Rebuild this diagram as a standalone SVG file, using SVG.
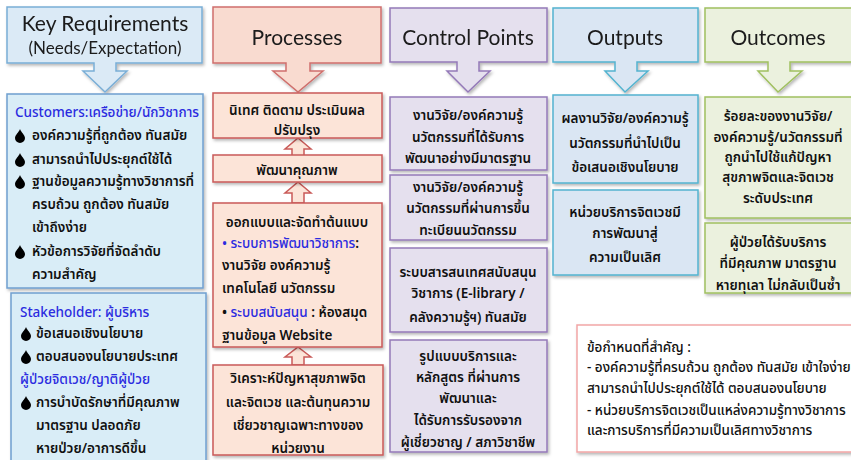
<svg xmlns="http://www.w3.org/2000/svg" xmlns:xlink="http://www.w3.org/1999/xlink" width="851" height="460" viewBox="0 0 851 460">
<defs>
<filter id="sh" x="-10%" y="-10%" width="120%" height="130%">
<feDropShadow dx="1.5" dy="2" stdDeviation="1.5" flood-color="#000" flood-opacity="0.28"/>
</filter>
<path id="drop" d="M0,-7 C1,-4 5,-1 5,2 A5,5 0 0 1 -5,2 C-5,-1 -1,-4 0,-7 Z" fill="#000"/>
<style>
.hd{font-family:Lato,"Open Sans","Liberation Sans",sans-serif;font-size:21px;fill:#1a1a1a;text-anchor:middle}
.hd2{font-family:Lato,"Open Sans","Liberation Sans",sans-serif;font-size:17px;fill:#1a1a1a;text-anchor:middle}
.t{font-family:"Noto Sans Thai","Noto Sans","Liberation Sans",sans-serif;font-size:13.5px;font-weight:600;fill:#111}
.c{text-anchor:middle}
.b{fill:#2b2be0;font-weight:500}
.blue{fill:#dbeaf6;stroke:#7aaed6;stroke-width:1.5}
.blue2{fill:#d9edf7;stroke:#6f9fd0;stroke-width:1.5}
.red{fill:#f9dbd0;stroke:#cf6f6c;stroke-width:1.5}
.red2{fill:#fce4d8;stroke:#c95a58;stroke-width:1.5}
.pur{fill:#e5e0ee;stroke:#9479b8;stroke-width:1.5}
.aqua{fill:#dae6f3;stroke:#53b3cf;stroke-width:1.5}
.grn{fill:#ebf1de;stroke:#a0c060;stroke-width:1.5}
.note{fill:#fff;stroke:#f2a6a6;stroke-width:1.5}
.nt{font-weight:500}
</style>
</defs>
<rect width="851" height="460" fill="#fff"/>

<g id="connectors">
<path class="red2" d="M298,138 L311,149 H304 V156 H292 V149 H285 Z"/>
<path class="red2" d="M298,182 L311,193 H304 V203 H292 V193 H285 Z"/>
<path class="red2" d="M298,347 L311,357 H304 V365 H292 V357 H285 Z"/>
</g>

<g id="hdr-key" filter="url(#sh)">
<path class="blue" d="M7,7 H202 V63 H116 V71 H127 L105,92 L83,71 H94 V63 H7 Z"/>
<text class="hd" x="105" y="31">Key Requirements</text>
<text class="hd2" x="105" y="54">(Needs/Expectation)</text>
</g>
<g id="hdr-proc" filter="url(#sh)">
<path class="red" d="M213,7 H381 V63 H310 V71 H323 L298,92 L273,71 H286 V63 H213 Z"/>
<text class="hd" x="297" y="45">Processes</text>
</g>
<g id="hdr-ctrl" filter="url(#sh)">
<path class="pur" d="M390,8 H547 V62 H479 V71 H490 L468,92 L447,71 H457 V62 H390 Z"/>
<text class="hd" x="468" y="45">Control Points</text>
</g>
<g id="hdr-out" filter="url(#sh)">
<path class="aqua" d="M553,8 H698 V62 H637 V71 H648 L625,92 L605,71 H615 V62 H553 Z"/>
<text class="hd" x="625" y="45">Outputs</text>
</g>
<g id="hdr-outc" filter="url(#sh)">
<path class="grn" d="M705,8 H853 V62 H790 V71 H802 L778,92 L758,71 H768 V62 H705 Z"/>
<text class="hd" x="778" y="45">Outcomes</text>
</g>

<g id="customers">
<rect class="blue2" x="7" y="94" width="196" height="194" filter="url(#sh)"/>
<text class="t b" x="15" y="117">Customers:เครือข่าย/นักวิชาการ</text>
<use xlink:href="#drop" x="20" y="136"/>
<text class="t" x="32" y="140">องค์ความรู้ที่ถูกต้อง ทันสมัย</text>
<use xlink:href="#drop" x="20" y="160"/>
<text class="t" x="32" y="164">สามารถนำไปประยุกต์ใช้ได้</text>
<use xlink:href="#drop" x="20" y="182"/>
<text class="t" x="32" y="186">ฐานข้อมูลความรู้ทางวิชาการที่</text>
<text class="t" x="32" y="209">ครบถ้วน ถูกต้อง ทันสมัย</text>
<text class="t" x="32" y="232">เข้าถึงง่าย</text>
<use xlink:href="#drop" x="20" y="252"/>
<text class="t" x="32" y="256">หัวข้อการวิจัยที่จัดลำดับ</text>
<text class="t" x="32" y="279">ความสำคัญ</text>
</g>

<g id="stakeholder">
<rect class="blue2" x="11" y="293" width="195" height="175" filter="url(#sh)"/>
<text class="t b" x="20" y="317">Stakeholder: ผู้บริหาร</text>
<use xlink:href="#drop" x="26" y="334"/>
<text class="t" x="36" y="338">ข้อเสนอเชิงนโยบาย</text>
<use xlink:href="#drop" x="26" y="357"/>
<text class="t" x="36" y="361">ตอบสนองนโยบายประเทศ</text>
<text class="t b" x="20" y="384">ผู้ป่วยจิตเวช/ญาติผู้ป่วย</text>
<use xlink:href="#drop" x="26" y="403"/>
<text class="t" x="36" y="407">การบำบัดรักษาที่มีคุณภาพ</text>
<text class="t" x="36" y="430">มาตรฐาน ปลอดภัย</text>
<text class="t" x="36" y="453">หายป่วย/อาการดีขึ้น</text>
</g>

<g id="proc-a">
<rect class="red2" x="213" y="93" width="169" height="45" filter="url(#sh)"/>
<text class="t c" x="297" y="115">นิเทศ ติดตาม ประเมินผล</text>
<text class="t c" x="297" y="135">ปรับปรุง</text>
</g>
<g id="proc-b">
<rect class="red2" x="213" y="155" width="169" height="27" filter="url(#sh)"/>
<text class="t c" x="297" y="175">พัฒนาคุณภาพ</text>
</g>
<g id="proc-c">
<rect class="red2" x="213" y="203" width="169" height="144" filter="url(#sh)"/>
<text class="t c" x="297" y="227">ออกแบบและจัดทำต้นแบบ</text>
<text class="t" x="222" y="248"><tspan class="b">• ระบบการพัฒนาวิชาการ</tspan>:</text>
<text class="t" x="222" y="270">งานวิจัย องค์ความรู้</text>
<text class="t" x="222" y="293">เทคโนโลยี นวัตกรรม</text>
<text class="t" x="222" y="317">• <tspan class="b">ระบบสนับสนุน</tspan> : ห้องสมุด</text>
<text class="t" x="222" y="340">ฐานข้อมูล Website</text>
</g>
<g id="proc-d">
<rect class="red2" x="213" y="365" width="170" height="90" filter="url(#sh)"/>
<text class="t c" x="298" y="383">วิเคราะห์ปัญหาสุขภาพจิต</text>
<text class="t c" x="298" y="407">และจิตเวช และต้นทุนความ</text>
<text class="t c" x="298" y="430">เชี่ยวชาญเฉพาะทางของ</text>
<text class="t c" x="298" y="453">หน่วยงาน</text>
</g>

<g id="cp1">
<rect class="pur" x="390" y="97" width="157" height="73" filter="url(#sh)"/>
<text class="t c" x="468" y="120">งานวิจัย/องค์ความรู้</text>
<text class="t c" x="468" y="142">นวัตกรรมที่ได้รับการ</text>
<text class="t c" x="468" y="163">พัฒนาอย่างมีมาตรฐาน</text>
</g>
<g id="cp2">
<rect class="pur" x="390" y="175" width="157" height="65" filter="url(#sh)"/>
<text class="t c" x="468" y="192">งานวิจัย/องค์ความรู้</text>
<text class="t c" x="468" y="213">นวัตกรรมที่ผ่านการขึ้น</text>
<text class="t c" x="468" y="235">ทะเบียนนวัตกรรม</text>
</g>
<g id="cp3">
<rect class="pur" x="390" y="248" width="157" height="84" filter="url(#sh)"/>
<text class="t c" x="468" y="277">ระบบสารสนเทศสนับสนุน</text>
<text class="t c" x="468" y="298">วิชาการ (E-library /</text>
<text class="t c" x="468" y="322">คลังความรู้ฯ) ทันสมัย</text>
</g>
<g id="cp4">
<rect class="pur" x="390" y="340" width="157" height="112" filter="url(#sh)"/>
<text class="t c" x="468" y="361">รูปแบบบริการและ</text>
<text class="t c" x="468" y="382">หลักสูตร  ที่ผ่านการ</text>
<text class="t c" x="468" y="403">พัฒนาและ</text>
<text class="t c" x="468" y="425">ได้รับการรับรองจาก</text>
<text class="t c" x="468" y="447">ผู้เชี่ยวชาญ / สภาวิชาชีพ</text>
</g>

<g id="out1">
<rect class="aqua" x="553" y="95" width="145" height="88" filter="url(#sh)"/>
<text class="t c" x="625" y="123">ผลงานวิจัย/องค์ความรู้</text>
<text class="t c" x="625" y="148">นวัตกรรมที่นำไปเป็น</text>
<text class="t c" x="625" y="172">ข้อเสนอเชิงนโยบาย</text>
</g>
<g id="out2">
<rect class="aqua" x="553" y="190" width="145" height="85" filter="url(#sh)"/>
<text class="t c" x="625" y="217">หน่วยบริการจิตเวชมี</text>
<text class="t c" x="625" y="238">การพัฒนาสู่</text>
<text class="t c" x="625" y="262">ความเป็นเลิศ</text>
</g>

<g id="oc1">
<rect class="grn" x="705" y="97" width="148" height="121" filter="url(#sh)"/>
<text class="t c" x="778" y="121">ร้อยละของงานวิจัย/</text>
<text class="t c" x="778" y="142">องค์ความรู้/นวัตกรรมที่</text>
<text class="t c" x="778" y="162">ถูกนำไปใช้แก้ปัญหา</text>
<text class="t c" x="778" y="182">สุขภาพจิตและจิตเวช</text>
<text class="t c" x="778" y="203">ระดับประเทศ</text>
</g>
<g id="oc2">
<rect class="grn" x="705" y="223" width="148" height="70" filter="url(#sh)"/>
<text class="t c" x="778" y="247">ผู้ป่วยได้รับบริการ</text>
<text class="t c" x="778" y="268">ที่มีคุณภาพ มาตรฐาน</text>
<text class="t c" x="778" y="290">หายทุเลา ไม่กลับเป็นซ้ำ</text>
</g>

<g id="note">
<rect class="note" x="577" y="325" width="280" height="127" filter="url(#sh)"/>
<text class="t nt" x="587" y="352">ข้อกำหนดที่สำคัญ :</text>
<text class="t nt" x="587" y="372">- องค์ความรู้ที่ครบถ้วน ถูกต้อง ทันสมัย เข้าใจง่าย</text>
<text class="t nt" x="587" y="393">สามารถนำไปประยุกต์ใช้ได้ ตอบสนองนโยบาย</text>
<text class="t nt" x="587" y="415">- หน่วยบริการจิตเวชเป็นแหล่งความรู้ทางวิชาการ</text>
<text class="t nt" x="587" y="435">และการบริการที่มีความเป็นเลิศทางวิชาการ</text>
</g>
</svg>
